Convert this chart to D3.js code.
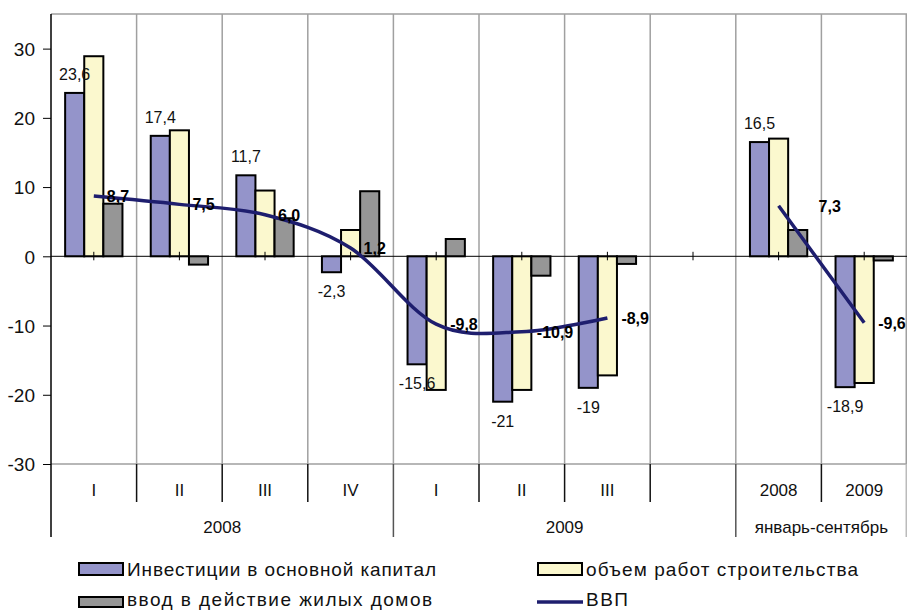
<!DOCTYPE html>
<html>
<head>
<meta charset="utf-8">
<script src="https://cdn.jsdelivr.net/npm/d3@7"></script>
<style>
  html, body { margin: 0; padding: 0; background: #fff; }
  svg { display: block; font-family: "Liberation Sans", Arial, sans-serif; }
</style>
</head>
<body>
<svg id="chart" width="907" height="610"></svg>
<script>
// ---- data ----
const categories = ["I", "II", "III", "IV", "I", "II", "III", "", "2008", "2009"];
const groupLabels = ["2008", "2009", "январь-сентябрь"];
const groupSpans = [4, 4, 2];
const investment = [23.6, 17.4, 11.7, -2.3, -15.6, -21, -19, null, 16.5, -18.9];
const construction = [28.9, 18.2, 9.5, 3.8, -19.3, -19.3, -17.2, null, 17.0, -18.3];
const housing = [7.6, -1.2, 5.5, 9.4, 2.5, -2.8, -1.1, null, 3.8, -0.6];
const gdp = [8.7, 7.5, 6.0, 1.2, -9.8, -10.9, -8.9, null, 7.3, -9.6];
const yTicks = [-30, -20, -10, 0, 10, 20, 30];
const seriesNames = ["Инвестиции в основной капитал", "объем работ строительства", "ввод в действие жилых домов", "ВВП"];

// ---- styles ----
const colors = { inv: "#9494CA", con: "#FBF8CE", hou: "#969696", gdp: "#1E1E6E" };
const gdpLabelDx = [13, 13, 13, 13, 14, 15, 14, 0, 40, 14];

const locale = d3.formatLocale({ decimal: ",", thousands: " ", grouping: [3], currency: ["", ""], minus: "-" });
const fmtInv = locale.format("~g");
const fmtGdp = locale.format(".1f");
const fmtAxis = locale.format("d");

const svg = d3.select("#chart");
const pLeft = 51, pRight = 907, pTop = 14, pBottom = 464;

const y = d3.scaleLinear().domain([-30, 35]).range([pBottom, pTop]);
const x = d3.scaleBand().domain(d3.range(categories.length)).range([pLeft, pRight]).padding(0);
const bw = x.bandwidth();
const keys = ["inv", "con", "hou"];
const x1 = d3.scaleBand().domain(keys).range([0, bw]).paddingInner(0).paddingOuter(0.74);
const data = categories.map((c, i) => ({ i, inv: investment[i], con: construction[i], hou: housing[i], gdp: gdp[i] }));

// gridlines (vertical at category boundaries)
const bounds = d3.range(1, categories.length).map(i => x(i));
svg.append("g").selectAll("line").data(bounds).join("line")
  .attr("x1", d => d).attr("x2", d => d).attr("y1", pTop).attr("y2", pBottom)
  .attr("stroke", "#a0a0a0").attr("stroke-width", 1.5);
// plot border (top, right, bottom)
svg.append("path")
  .attr("d", `M${pLeft},${pTop}H${pRight - 0.75}V${pBottom}H${pLeft}`)
  .attr("fill", "none").attr("stroke", "#a0a0a0").attr("stroke-width", 1.5);

// bars
const g = svg.append("g");
keys.forEach(k => {
  g.append("g").selectAll("rect").data(data.filter(d => d[k] != null)).join("rect")
    .attr("x", d => x(d.i) + x1(k))
    .attr("width", x1.bandwidth())
    .attr("y", d => y(Math.max(0, d[k])))
    .attr("height", d => Math.abs(y(d[k]) - y(0)))
    .attr("fill", colors[k]).attr("stroke", "#000").attr("stroke-width", 2);
});

// zero line with ticks
svg.append("line").attr("x1", pLeft).attr("x2", pRight).attr("y1", y(0)).attr("y2", y(0))
  .attr("stroke", "#000").attr("stroke-width", 1);
svg.append("g").selectAll("line").data(d3.range(categories.length)).join("line")
  .attr("x1", d => x(d) + bw / 2).attr("x2", d => x(d) + bw / 2)
  .attr("y1", y(0) - 4.5).attr("y2", y(0) + 4)
  .attr("stroke", "#000").attr("stroke-width", 1);

// y axis
const yAxis = svg.append("g").attr("transform", `translate(${pLeft},0)`)
  .call(d3.axisLeft(y).tickValues(yTicks).tickSize(8).tickPadding(8).tickFormat(fmtAxis));
yAxis.select(".domain").remove();
yAxis.selectAll(".tick line").attr("stroke", "#000");
yAxis.selectAll(".tick text").attr("font-size", 19).attr("fill", "#111")
  .attr("font-family", "Liberation Sans, Arial, sans-serif").attr("dy", "0.36em");
// left axis line extends to bottom of group labels
svg.append("line").attr("x1", pLeft).attr("x2", pLeft).attr("y1", pTop).attr("y2", 537)
  .attr("stroke", "#000").attr("stroke-width", 1.5);

// category labels
svg.append("g").selectAll("text").data(categories).join("text")
  .attr("x", (d, i) => x(i) + bw / 2).attr("y", 496)
  .attr("text-anchor", "middle").attr("font-size", 17).attr("fill", "#111").text(d => d);
// category separators
const groupStarts = [];
let acc = 0;
groupSpans.forEach(s => { groupStarts.push(acc); acc += s; });
const groupBounds = new Set(groupStarts.concat([categories.length]));
d3.range(1, categories.length).forEach(i => {
  const isGroup = groupBounds.has(i);
  svg.append("line").attr("x1", x(i)).attr("x2", x(i)).attr("y1", pBottom).attr("y2", isGroup ? 537 : 502)
    .attr("stroke", isGroup ? "#555" : "#111").attr("stroke-width", 1.5);
});
svg.append("line").attr("x1", pRight - 0.75).attr("x2", pRight - 0.75).attr("y1", pBottom).attr("y2", 537)
  .attr("stroke", "#bbb").attr("stroke-width", 1.5);
// group labels
svg.append("g").selectAll("text").data(groupLabels).join("text")
  .attr("x", (d, i) => {
    const a = x(groupStarts[i]);
    const b = groupStarts[i] + groupSpans[i] >= categories.length ? pRight : x(groupStarts[i] + groupSpans[i]);
    return (a + b) / 2;
  })
  .attr("y", 533).attr("text-anchor", "middle").attr("font-size", 17).attr("fill", "#111").text(d => d);

// GDP line
const line = d3.line()
  .defined(d => d.gdp != null)
  .x(d => x(d.i) + bw / 2).y(d => y(d.gdp))
  .curve(d3.curveCardinal.tension(0));
svg.append("path").datum(data).attr("d", line)
  .attr("fill", "none").attr("stroke", colors.gdp).attr("stroke-width", 3.5).attr("stroke-linecap", "butt");

// investment labels
svg.append("g").selectAll("text").data(data.filter(d => d.inv != null)).join("text")
  .attr("x", d => x(d.i) + x1("inv") + x1.bandwidth() / 2)
  .attr("y", d => d.inv >= 0 ? y(d.inv) - 13 : y(d.inv) + 25)
  .attr("text-anchor", "middle").attr("font-size", 16).attr("fill", "#111")
  .text(d => fmtInv(d.inv));

// GDP labels
svg.append("g").selectAll("text").data(data.filter(d => d.gdp != null)).join("text")
  .attr("x", d => x(d.i) + bw / 2 + gdpLabelDx[d.i])
  .attr("y", d => y(d.gdp) + 6)
  .attr("font-size", 16).attr("font-weight", "bold").attr("fill", "#000")
  .text(d => fmtGdp(d.gdp));

// legend
const leg = svg.append("g");
const legItems = [
  { name: seriesNames[0], type: "rect", color: colors.inv, x: 78, y: 563, h: 12, tw: 309, ty: 576 },
  { name: seriesNames[1], type: "rect", color: colors.con, x: 537, y: 563, h: 12, tw: 272, ty: 576 },
  { name: seriesNames[2], type: "rect", color: colors.hou, x: 78, y: 597, h: 10, tw: 305, ty: 606 },
  { name: seriesNames[3], type: "line", color: colors.gdp, x: 537, y: 597, h: 10, tw: 42, ty: 606 }
];
legItems.forEach(it => {
  if (it.type === "rect") {
    leg.append("rect").attr("x", it.x + 1).attr("y", it.y).attr("width", 44).attr("height", it.h)
      .attr("fill", it.color).attr("stroke", "#000").attr("stroke-width", 2);
  } else {
    leg.append("line").attr("x1", it.x).attr("x2", it.x + 46).attr("y1", it.y + 5).attr("y2", it.y + 5)
      .attr("stroke", it.color).attr("stroke-width", 3.5);
  }
  leg.append("text").attr("x", it.x + 49).attr("y", it.ty)
    .attr("font-size", 19).attr("fill", "#111")
    .attr("textLength", it.tw).attr("lengthAdjust", "spacing")
    .text(it.name);
});
</script>
</body>
</html>
